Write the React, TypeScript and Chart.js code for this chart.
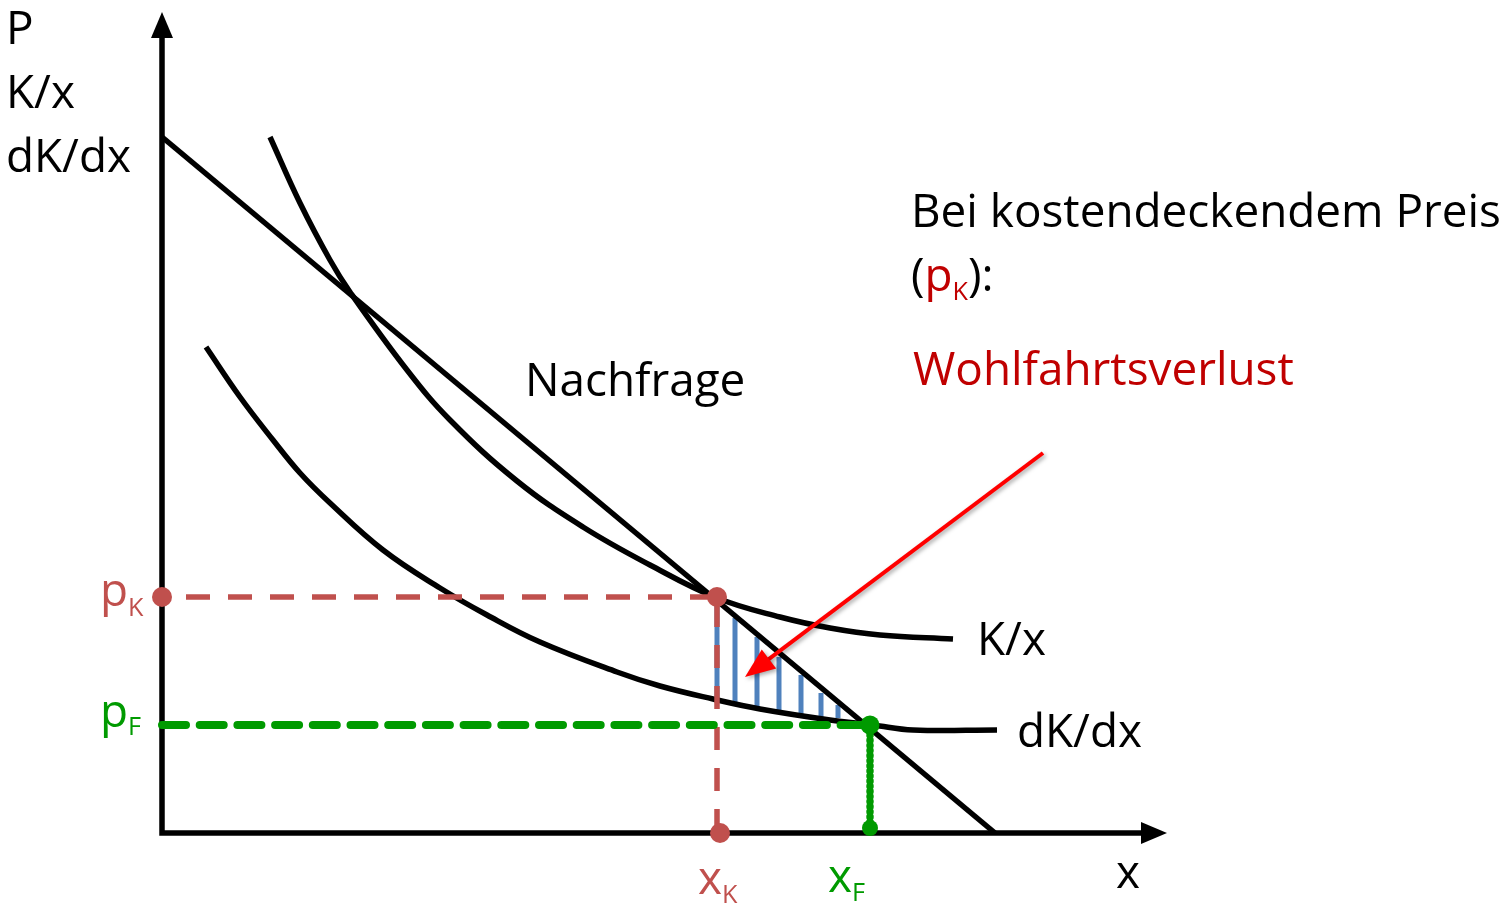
import { useEffect, useRef } from 'react';
import { Chart, registerables } from 'chart.js';

Chart.register(...registerables);

// ---- data (economic units) ----
const demandX = [0, 8.33];
const demandY = [6.96, 0];
const avgCostX = [1.08, 1.38, 1.68, 1.88, 2.45, 2.88, 3.55, 4.21, 4.88, 5.55, 6.18, 6.68, 7.18, 7.91];
const avgCostY = [6.96, 6.30, 5.73, 5.41, 4.63, 4.13, 3.52, 3.06, 2.68, 2.35, 2.16, 2.05, 1.98, 1.94];
const margCostX = [0.44, 0.78, 1.11, 1.38, 1.68, 2.21, 2.78, 3.25, 3.78, 4.55, 4.98, 5.51, 5.98, 6.68, 7.11, 7.51, 8.35];
const margCostY = [4.86, 4.36, 3.93, 3.60, 3.30, 2.83, 2.45, 2.18, 1.91, 1.61, 1.47, 1.34, 1.24, 1.13, 1.08, 1.03, 1.03];
const priceK = 2.36;
const quantK = 5.55;
const priceF = 1.08;
const quantF = 7.08;
const hatchX = [5.55, 5.73, 5.95, 6.17, 6.39, 6.59, 6.76];
const hatchTop = [2.35, 2.15, 1.96, 1.76, 1.58, 1.40, 1.28];
const hatchBottom = [1.33, 1.31, 1.26, 1.23, 1.19, 1.16, 1.15];
const arrowFrom = [8.81, 3.80];
const arrowTo = [5.83, 1.56];
const xAxisEnd = 10.05;
const yAxisEnd = 8.21;

const FONT = '"Open Sans", "Noto Sans", sans-serif';
const RED = '#C0504D';
const DARKRED = '#C00000';
const GREEN = '#009A00';
const BLUE = '#4F81BD';

function pts(xs: number[], ys: number[]) {
  return xs.map((x, i) => ({ x, y: ys[i] }));
}

const overlayPlugin = {
  id: 'overlay',
  beforeDatasetsDraw(chart: any) {
    const { ctx, scales } = chart;
    const xs = scales.x, ys = scales.y;
    const ox = xs.getPixelForValue(0), oy = ys.getPixelForValue(0);
    const xe = xs.getPixelForValue(xAxisEnd), ye = ys.getPixelForValue(yAxisEnd);
    ctx.save();
    ctx.strokeStyle = '#000';
    ctx.fillStyle = '#000';
    ctx.lineWidth = 5.5;
    ctx.lineJoin = 'miter';
    ctx.beginPath();
    ctx.moveTo(ox, ye + 20);
    ctx.lineTo(ox, oy);
    ctx.lineTo(xe - 20, oy);
    ctx.stroke();
    // arrowheads
    ctx.beginPath();
    ctx.moveTo(ox, ye);
    ctx.lineTo(ox - 11, ye + 26);
    ctx.lineTo(ox + 11, ye + 26);
    ctx.closePath();
    ctx.fill();
    ctx.beginPath();
    ctx.moveTo(xe, oy);
    ctx.lineTo(xe - 26, oy - 11);
    ctx.lineTo(xe - 26, oy + 11);
    ctx.closePath();
    ctx.fill();
    ctx.restore();
  },
  afterDatasetsDraw(chart: any) {
    const { ctx, scales } = chart;
    const xs = scales.x, ys = scales.y;
    // red arrow
    const x1 = xs.getPixelForValue(arrowFrom[0]), y1 = ys.getPixelForValue(arrowFrom[1]);
    const x2 = xs.getPixelForValue(arrowTo[0]), y2 = ys.getPixelForValue(arrowTo[1]);
    const ang = Math.atan2(y2 - y1, x2 - x1);
    const len = 30, hw = 12;
    const bx = x2 - len * Math.cos(ang), by = y2 - len * Math.sin(ang);
    ctx.save();
    ctx.shadowColor = 'rgba(0,0,0,0.35)';
    ctx.shadowBlur = 4;
    ctx.shadowOffsetX = 2;
    ctx.shadowOffsetY = 2;
    ctx.strokeStyle = '#FF0000';
    ctx.fillStyle = '#FF0000';
    ctx.lineWidth = 4;
    ctx.beginPath();
    ctx.moveTo(x1, y1);
    ctx.lineTo(bx + 4 * Math.cos(ang), by + 4 * Math.sin(ang));
    ctx.stroke();
    ctx.beginPath();
    ctx.moveTo(x2, y2);
    ctx.lineTo(bx + hw * Math.sin(ang), by - hw * Math.cos(ang));
    ctx.lineTo(bx - hw * Math.sin(ang), by + hw * Math.cos(ang));
    ctx.closePath();
    ctx.fill();
    ctx.restore();

    // texts
    ctx.save();
    ctx.textBaseline = 'alphabetic';
    ctx.textAlign = 'left';
    ctx.font = `100px ${FONT}`;
    const S = (100 * 590) / ctx.measureText('Bei kostendeckendem Preis').width;
    const sub = S * 0.55;
    const put = (t: string, x: number, y: number, color: string, size = S) => {
      ctx.font = `${size}px ${FONT}`;
      ctx.fillStyle = color;
      ctx.fillText(t, x, y);
      return x + ctx.measureText(t).width;
    };
    put('P', 6, 44, '#000');
    put('K/x', 6, 108, '#000');
    put('dK/dx', 6, 172, '#000');
    put('Nachfrage', 525, 396, '#000');
    put('Bei kostendeckendem Preis', 911, 227, '#000');
    let cx = put('(', 911, 291, '#000');
    cx = put('p', cx, 291, DARKRED);
    cx = put('K', cx, 300, DARKRED, sub);
    put('):', cx, 291, '#000');
    put('Wohlfahrtsverlust', 913, 385, DARKRED);
    put('K/x', 977, 655, '#000');
    put('dK/dx', 1017, 747, '#000');
    let px = put('p', 100, 606, RED);
    put('K', px, 616, RED, sub);
    px = put('p', 100, 727, GREEN);
    put('F', px, 735, GREEN, sub);
    px = put('x', 698, 894, RED);
    put('K', px, 903, RED, sub);
    px = put('x', 828, 892, GREEN);
    put('F', px, 901, GREEN, sub);
    put('x', 1116, 888, '#000');
    ctx.restore();
  },
};

export default function App() {
  const ref = useRef<HTMLCanvasElement | null>(null);
  useEffect(() => {
    document.body.style.margin = '0';
    const canvas = ref.current;
    if (!canvas) return;
    const base = { showLine: true, pointRadius: 0, fill: false, tension: 0 };
    const hatchSets = hatchX.map((x, i) => ({
      ...base,
      data: [{ x, y: hatchTop[i] }, { x, y: hatchBottom[i] }],
      borderColor: BLUE,
      borderWidth: 5,
      order: 20,
    }));
    const chart = new Chart(canvas, {
      type: 'scatter',
      data: {
        datasets: [
          ...hatchSets,
          {
            ...base,
            data: pts(demandX, demandY),
            borderColor: '#000',
            borderWidth: 5.5,
            order: 8,
          },
          {
            ...base,
            data: pts(avgCostX, avgCostY),
            borderColor: '#000',
            borderWidth: 5.5,
            tension: 0.4,
            order: 8,
          },
          {
            ...base,
            data: pts(margCostX, margCostY),
            borderColor: '#000',
            borderWidth: 5.5,
            tension: 0.4,
            order: 8,
          },
          {
            ...base,
            data: [{ x: 0, y: priceK }, { x: quantK, y: priceK }],
            borderColor: RED,
            borderWidth: 5.5,
            borderDash: [24, 18],
            borderDashOffset: 18,
            order: 5,
          },
          {
            ...base,
            data: [{ x: quantK, y: priceK }, { x: quantK, y: 0 }],
            borderColor: RED,
            borderWidth: 5.5,
            borderDash: [23, 18],
            borderDashOffset: 34,
            order: 5,
          },
          {
            ...base,
            data: [{ x: 0, y: priceF }, { x: quantF, y: priceF }],
            borderColor: GREEN,
            borderWidth: 8,
            borderDash: [24, 13.7],
            borderCapStyle: 'round',
            order: 4,
          },
          {
            ...base,
            data: [{ x: quantF, y: priceF }, { x: quantF, y: 0.05 }],
            borderColor: GREEN,
            borderWidth: 7.5,
            borderDash: [0.1, 5],
            borderCapStyle: 'round',
            order: 4,
          },
          {
            data: [{ x: 0, y: priceK }, { x: quantK, y: priceK }, { x: quantK + 0.03, y: 0 }],
            showLine: false,
            pointRadius: 10,
            pointBorderWidth: 0,
            pointBackgroundColor: RED,
            order: 1,
          },
          {
            data: [{ x: quantF, y: priceF }],
            showLine: false,
            pointRadius: 9.5,
            pointBorderWidth: 0,
            pointBackgroundColor: GREEN,
            order: 1,
          },
          {
            data: [{ x: quantF, y: 0.05 }],
            showLine: false,
            pointRadius: 8,
            pointBorderWidth: 0,
            pointBackgroundColor: GREEN,
            order: 1,
          },
        ] as any,
      },
      options: {
        responsive: false,
        animation: false,
        devicePixelRatio: 1,
        events: [],
        layout: { padding: 0, autoPadding: false },
        scales: {
          x: { type: 'linear', min: -1.62, max: 13.45, display: false },
          y: { type: 'linear', min: -0.75, max: 8.33, display: false },
        },
        plugins: {
          legend: { display: false },
          tooltip: { enabled: false },
          title: { display: false },
        },
      } as any,
      plugins: [overlayPlugin],
    });
    return () => chart.destroy();
  }, []);
  return (
    <div style={{ position: 'fixed', left: 0, top: 0, width: 1507, height: 908, background: '#fff' }}>
      <canvas ref={ref} width={1507} height={908} style={{ display: 'block' }} />
    </div>
  );
}
